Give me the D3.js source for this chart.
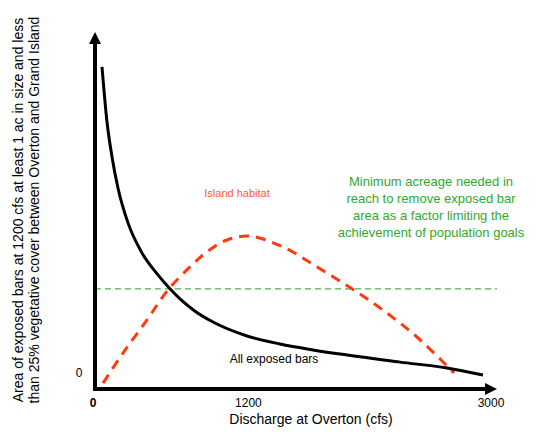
<!DOCTYPE html>
<html><head><meta charset="utf-8">
<script src="https://cdn.jsdelivr.net/npm/d3@7"></script>
<style>body{margin:0;background:#fff}svg{display:block;font-family:"Liberation Sans",Arial,sans-serif}</style>
</head><body><svg id="c" width="538" height="434"></svg>
<script>
// Data (arbitrary area units vs discharge in cfs)
const exposedX = [53, 91, 129, 174, 250, 356, 477, 568, 644, 758, 894, 1152, 1402, 1652, 1856, 2311, 2667, 2939];
const exposedY = [92.3, 76.5, 66.5, 57.6, 47.6, 39.0, 32.7, 28.7, 25.8, 22.3, 19.2, 15.2, 12.9, 11.2, 10.0, 7.7, 6.0, 4.0];
const islandX = [61, 212, 394, 553, 720, 848, 1000, 1174, 1424, 1682, 1947, 2182, 2439, 2720];
const islandY = [1.7, 10.3, 19.8, 28.4, 35.0, 39.3, 42.7, 43.8, 40.7, 35.0, 28.7, 22.6, 14.9, 4.6];
const thresholdValue = 28.7;
const thresholdRange = [0, 3045];
const xTicks = [0, 1200, 3000];
const xTickLabels = ["0", "1200", "3000"];
const yTicks = [0];
const yTickLabels = ["0"];
const yTitle = ["Area of exposed bars at 1200 cfs at least 1 ac in size and less",
                "than 25% vegetative cover between Overton and Grand Island"];
const xTitle = "Discharge at Overton (cfs)";
const noteLines = ["Minimum acreage needed in", "reach to remove exposed bar",
                   "area as a factor limiting the", "achievement of population goals"];

const svg = d3.select("#c");
const x = d3.scaleLinear().domain([0, 3000]).range([95, 491]);
const y = d3.scaleLinear().domain([0, 100]).range([389, 40]);

const line = d3.line().x(d => x(d[0])).y(d => y(d[1])).curve(d3.curveCatmullRom.alpha(0.5));
const smooth = d3.line().x(d => x(d[0])).y(d => y(d[1])).curve(d3.curveMonotoneX);

// threshold
svg.append("line")
  .attr("x1", x(thresholdRange[0])).attr("x2", x(thresholdRange[1]))
  .attr("y1", y(thresholdValue)).attr("y2", y(thresholdValue))
  .attr("stroke", "#4caf50").attr("stroke-width", 1.2).attr("stroke-dasharray", "6,4");

// island habitat
svg.append("path").attr("d", line(islandX.map((v, i) => [v, islandY[i]])))
  .attr("fill", "none").attr("stroke", "#ff3a10").attr("stroke-width", 3)
  .attr("stroke-dasharray", "10,7");

// exposed bars
svg.append("path").attr("d", smooth(exposedX.map((v, i) => [v, exposedY[i]])))
  .attr("fill", "none").attr("stroke", "#000").attr("stroke-width", 3);

// axes
const x0 = x(0), y0 = y(0);
svg.append("line").attr("x1", x0).attr("x2", x0).attr("y1", y0 + 2).attr("y2", 40)
  .attr("stroke", "#000").attr("stroke-width", 4);
svg.append("path").attr("d", `M${x0},32 L${x0 - 6},44 L${x0 + 6},44 Z`).attr("fill", "#000");
svg.append("line").attr("x1", x0 - 2).attr("x2", 488).attr("y1", y0).attr("y2", y0)
  .attr("stroke", "#000").attr("stroke-width", 4);
svg.append("path").attr("d", `M497,${y0} L485,${y0 - 6} L485,${y0 + 6} Z`).attr("fill", "#000");

// tick labels
svg.selectAll(".xt").data(xTicks).enter().append("text")
  .attr("x", (d, i) => x(d) - (i === 0 ? 2 : (i === 1 ? 5 : 0)))
  .attr("y", 407).attr("text-anchor", "middle").attr("font-size", 12)
  .attr("font-weight", (d, i) => i === 0 ? "bold" : "normal")
  .text((d, i) => xTickLabels[i]);
svg.selectAll(".yt").data(yTicks).enter().append("text")
  .attr("x", 79).attr("y", y(0) - 12).attr("text-anchor", "middle").attr("font-size", 12)
  .text((d, i) => yTickLabels[i]);

// titles
svg.append("text").attr("x", 311).attr("y", 424).attr("text-anchor", "middle")
  .attr("font-size", 14).text(xTitle);
yTitle.forEach((t, i) => {
  svg.append("text").attr("transform", `translate(${23 + i * 16},210) rotate(-90)`)
    .attr("text-anchor", "middle").attr("font-size", 14).text(t);
});

// annotations
svg.append("text").attr("x", 237).attr("y", 197).attr("text-anchor", "middle")
  .attr("font-size", 11).attr("fill", "#ff5a36").text("Island habitat");
svg.append("text").attr("x", 274).attr("y", 363).attr("text-anchor", "middle")
  .attr("font-size", 12).attr("fill", "#000").text("All exposed bars");
noteLines.forEach((t, i) => {
  svg.append("text").attr("x", 431).attr("y", 186 + i * 17).attr("text-anchor", "middle")
    .attr("font-size", 13).attr("fill", "#2eaa2e").text(t);
});
</script></body></html>
